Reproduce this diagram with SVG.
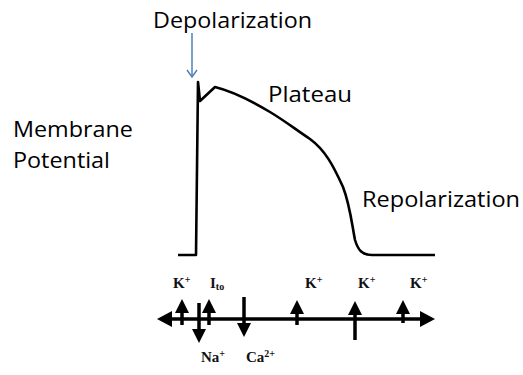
<svg xmlns="http://www.w3.org/2000/svg" width="523" height="375" viewBox="0 0 523 375">
<style>
.lbl{font-family:"Open Sans","Noto Sans",sans-serif;font-size:21px;fill:#000}
.ion{font-family:"Liberation Serif",serif;font-size:15px;font-weight:bold;fill:#111}
.sup{font-size:10px}
.shaft{stroke:#000;stroke-width:3.5;fill:none}
.head{fill:#000}
</style>
<defs>
<marker id="bv" markerWidth="12" markerHeight="12" refX="10" refY="6" orient="auto" markerUnits="userSpaceOnUse" viewBox="0 0 12 12">
<path d="M3,1 L10,6 L3,11" fill="none" stroke="#4f81bd" stroke-width="1.5"/>
</marker>
</defs>
<rect width="523" height="375" fill="#fff"/>
<g id="labels">
<text class="lbl" x="153" y="28" textLength="159" lengthAdjust="spacingAndGlyphs">Depolarization</text>
<text class="lbl" x="268" y="102" textLength="84" lengthAdjust="spacingAndGlyphs">Plateau</text>
<text class="lbl" x="13" y="137" textLength="120" lengthAdjust="spacingAndGlyphs">Membrane</text>
<text class="lbl" x="13" y="168" textLength="97" lengthAdjust="spacingAndGlyphs">Potential</text>
<text class="lbl" x="362" y="207" textLength="158" lengthAdjust="spacingAndGlyphs">Repolarization</text>
</g>
<g id="connectors">
<line x1="192" y1="33" x2="192" y2="77" stroke="#4f81bd" stroke-width="1.5" marker-end="url(#bv)"/>
</g>
<g id="action-potential">
<path d="M178,255 L196,255 L198,82 L200,101 L215,87 C235,92 255,103 270,112 C285,121 295,129 310,139 C325,150 333,165 343,187 C350,205 352,225 355,240 C358,250 362,255 372,255 L435,255" fill="none" stroke="#000" stroke-width="2.6" stroke-linejoin="round"/>
</g>
<g id="axis">
<line class="shaft" x1="168" y1="319" x2="424" y2="319"/>
<polygon class="head" points="157,319 172,311 172,327"/>
<polygon class="head" points="435,319 420,311 420,327"/>
</g>
<g id="currents">
<line class="shaft" x1="182" y1="325" x2="182" y2="310"/>
<polygon class="head" points="182,299 175,313 189,313"/>
<line class="shaft" x1="209" y1="325" x2="209" y2="310"/>
<polygon class="head" points="209,299 202,313 216,313"/>
<line class="shaft" x1="199" y1="303" x2="199" y2="331"/>
<polygon class="head" points="199,343 192,329 206,329"/>
<line class="shaft" x1="244" y1="297" x2="244" y2="325"/>
<polygon class="head" points="244,337 237,323 251,323"/>
<line class="shaft" x1="297" y1="325" x2="297" y2="311"/>
<polygon class="head" points="297,300 290,314 304,314"/>
<line class="shaft" x1="355" y1="340" x2="355" y2="312"/>
<polygon class="head" points="355,301 348,315 362,315"/>
<line class="shaft" x1="403" y1="323" x2="403" y2="311"/>
<polygon class="head" points="403,300 396,314 410,314"/>
</g>
<g id="ion-labels">
<text class="ion" x="173" y="288">K<tspan class="sup" dy="-5">+</tspan></text>
<text class="ion" x="210" y="288">I<tspan class="sup" dy="2">to</tspan></text>
<text class="ion" x="305" y="288">K<tspan class="sup" dy="-5">+</tspan></text>
<text class="ion" x="358" y="288">K<tspan class="sup" dy="-5">+</tspan></text>
<text class="ion" x="410" y="288">K<tspan class="sup" dy="-5">+</tspan></text>
<text class="ion" x="201" y="362">Na<tspan class="sup" dy="-5">+</tspan></text>
<text class="ion" x="246" y="362">Ca<tspan class="sup" dy="-5">2+</tspan></text>
</g>
</svg>
